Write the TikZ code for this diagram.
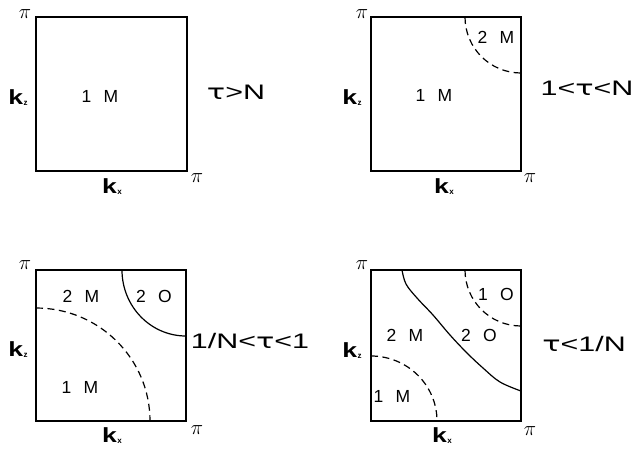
\documentclass[tikz,border=0pt]{standalone}
\usepackage{fontspec}
\usepackage{graphicx}
\setmainfont{Liberation Sans}
\newfontfamily\taufont{DejaVu Sans}
\newcommand{\wlab}[1]{\scalebox{1.45}[1]{\fontsize{21}{21}\selectfont #1}}
\newcommand{\tauc}{{\taufont τ}}
\newcommand{\kz}{{\fontsize{20.5}{20.5}\selectfont\bfseries\scalebox{1.3}[1]{k}\hspace{0.5pt}\raisebox{-1pt}{\fontsize{8}{8}\selectfont z}}}
\newcommand{\kx}{{\fontsize{20.5}{20.5}\selectfont\bfseries\scalebox{1.3}[1]{k}\hspace{0.5pt}\raisebox{-1pt}{\fontsize{8}{8}\selectfont x}}}
\newcommand{\pic}{{\fontsize{22}{22}\selectfont$\pi$}}
\newcommand{\reg}[2]{{\fontsize{17.5}{17.5}\selectfont #1\hspace{0.7em}#2}}
\begin{document}
\begin{tikzpicture}[x=1pt,y=-1pt,
  box/.style={line width=1.6pt},
  bnd/.style={line width=1.2pt},
  bnddash/.style={line width=1.2pt, dash pattern=on 7pt off 4.5pt},
  lab/.style={inner sep=0pt, anchor=center}]
\useasboundingbox (0,0) rectangle (640,451);
% ---------- panel 1 ----------
\draw[box] (36,17) rectangle (187,171);
\node[lab] (p1pa) at (25,14) {\pic};
\node[lab] (p1pb) at (197,178) {\pic};
\node[lab] (p1kz) at (18,98) {\kz};
\node[lab] (p1kx) at (112,187) {\kx};
\node[lab] (p1r) at (100,96) {\reg{1}{M}};
\node[lab] (p1t) at (236,92) {\wlab{\tauc>N}};
% ---------- panel 2 ----------
\draw[box] (371,17) rectangle (521,171);
\draw[bnddash] (465,17) arc[start angle=180, end angle=90, x radius=56, y radius=56];
\node[lab] (p2pa) at (362,14) {\pic};
\node[lab] (p2pb) at (530,178) {\pic};
\node[lab] (p2kz) at (352,98) {\kz};
\node[lab] (p2kx) at (444,187) {\kx};
\node[lab] (p2r2) at (496,37) {\reg{2}{M}};
\node[lab] (p2r1) at (434,95) {\reg{1}{M}};
\node[lab] (p2t) at (587,88) {\wlab{1<\tauc<N}};
% ---------- panel 3 ----------
\draw[box] (36,270) rectangle (186,421);
\draw[bnd] (122,270) arc[start angle=180, end angle=90, x radius=64, y radius=66];
\draw[bnddash] (36,308) arc[start angle=90, end angle=0, x radius=114, y radius=-113];
\node[lab] (p3pa) at (25,265) {\pic};
\node[lab] (p3pb) at (197,430) {\pic};
\node[lab] (p3kz) at (18,350) {\kz};
\node[lab] (p3kx) at (112,436) {\kx};
\node[lab] (p3r2) at (81,296) {\reg{2}{M}};
\node[lab] (p3r3) at (154,296) {\reg{2}{O}};
\node[lab] (p3r1) at (80,387) {\reg{1}{M}};
\node[lab] (p3t) at (250,341) {\wlab{1/N<\tauc<1}};
% ---------- panel 4 ----------
\draw[box] (371,270) rectangle (521,421);
\draw[bnd] plot[smooth, tension=0.6] coordinates {(402,270) (406,284) (417,298) (433,315) (450,335) (467,353) (483,368) (500,382) (521,391)};
\draw[bnddash] (465,270) arc[start angle=180, end angle=90, x radius=56, y radius=56];
\draw[bnddash] (371,356) arc[start angle=90, end angle=0, x radius=66, y radius=-65];
\node[lab] (p4pa) at (362,265) {\pic};
\node[lab] (p4pb) at (530,431) {\pic};
\node[lab] (p4kz) at (352,351) {\kz};
\node[lab] (p4kx) at (442,436) {\kx};
\node[lab] (p4r1) at (496,294) {\reg{1}{O}};
\node[lab] (p4r2) at (405,335) {\reg{2}{M}};
\node[lab] (p4r3) at (479,335) {\reg{2}{O}};
\node[lab] (p4r4) at (392,396) {\reg{1}{M}};
\node[lab] (p4t) at (584,344) {\wlab{\tauc<1/N}};
\end{tikzpicture}
\end{document}
